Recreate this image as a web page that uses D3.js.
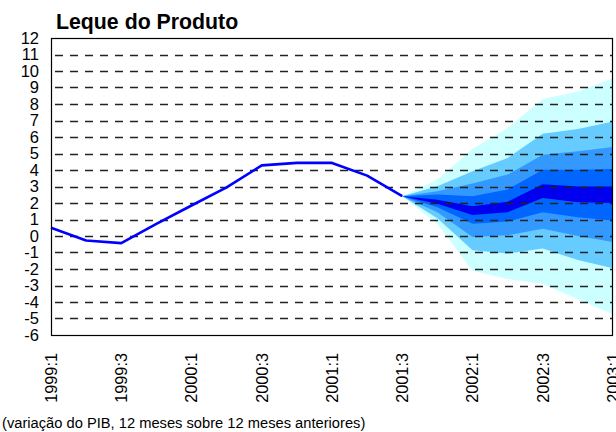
<!DOCTYPE html>
<html>
<head>
<meta charset="utf-8">
<script src="https://cdn.jsdelivr.net/npm/d3@7"></script>
<style>
  html, body { margin: 0; padding: 0; background: #fff; }
  svg { display: block; font-family: "Liberation Sans", Arial, sans-serif; }
</style>
</head>
<body>
<svg id="chart" width="616" height="432"></svg>
<script>
// ---- data ----
const quarters = ["1999:1","1999:2","1999:3","1999:4","2000:1","2000:2","2000:3","2000:4",
  "2001:1","2001:2","2001:3","2001:4","2002:1","2002:2","2002:3","2002:4","2003:1"];
const tickLabels = ["1999:1","1999:3","2000:1","2000:3","2001:1","2001:3","2002:1","2002:3","2003:1"];
const yTicks = [12,11,10,9,8,7,6,5,4,3,2,1,0,-1,-2,-3,-4,-5,-6];
// historical GDP growth (1999:1 .. 2001:3)
const history = [0.5, -0.27, -0.43, 0.73, 1.85, 2.95, 4.28, 4.43, 4.43, 3.66, 2.41];
// fan chart quantile bounds (2001:3 .. 2003:1)
const fanQuarters = ["2001:3","2001:4","2002:1","2002:2","2002:3","2002:4","2003:1"];
const outerUpper  = [2.41, 3.42, 5.27, 6.54, 8.30, 8.76, 9.56];
const band2Upper  = [2.41, 3.02, 3.92, 4.73, 6.20, 6.48, 6.94];
const band3Upper  = [2.41, 2.71, 3.18, 3.72, 4.93, 5.13, 5.39];
const band4Upper  = [2.41, 2.51, 2.41, 2.82, 4.02, 4.02, 4.06];
const centerUpper = [2.41, 2.20, 1.80, 2.08, 3.14, 3.00, 3.00];
const centerLower = [2.41, 1.95, 1.28, 1.44, 2.30, 2.04, 2.00];
const band4Lower  = [2.41, 1.74, 0.74, 0.88, 1.44, 1.14, 0.94];
const band3Lower  = [2.41, 1.44, -0.06, 0.04, 0.44, 0.00, -0.36];
const band2Lower  = [2.41, 1.08, -0.86, -1.06, -0.76, -1.46, -1.96];
const outerLower  = [2.41, 0.74, -2.10, -2.60, -2.90, -3.83, -4.74];
const bandColors = ["#CCFFFF", "#66CCFF", "#3399FF", "#0066FF", "#0000EE"];
const title = "Leque do Produto";
const caption = "(variação do PIB, 12 meses sobre 12 meses anteriores)";

// ---- layout ----
const L = 51, R = 613, T = 38, B = 335;
const svg = d3.select("#chart");
const x = d3.scalePoint().domain(quarters).range([L, R]);
const y = d3.scaleLinear().domain([-6, 12]).range([B, T]);

// fan bands
const bands = [
  [outerUpper, outerLower],
  [band2Upper, band2Lower],
  [band3Upper, band3Lower],
  [band4Upper, band4Lower],
  [centerUpper, centerLower]
];
const area = d3.area()
  .x(d => x(d.q))
  .y0(d => y(d.lo))
  .y1(d => y(d.hi));
bands.forEach((b, i) => {
  const pts = fanQuarters.map((q, j) => ({q, hi: b[0][j], lo: b[1][j]}));
  svg.append("path").attr("d", area(pts)).attr("fill", bandColors[i]).attr("stroke", "none");
});

// gridlines
const gridVals = d3.range(-5, 12);
svg.append("g").selectAll("line").data(gridVals).join("line")
  .attr("x1", L).attr("x2", R)
  .attr("y1", d => Math.round(y(d)) + 0.5).attr("y2", d => Math.round(y(d)) + 0.5)
  .attr("stroke", "#222").attr("stroke-width", 1.3)
  .attr("stroke-dasharray", "8 7").attr("stroke-dashoffset", 11);

// history line
const line = d3.line().x((d, i) => x(quarters[i])).y(d => y(d));
svg.append("path").attr("d", line(history))
  .attr("fill", "none").attr("stroke", "#0000FF").attr("stroke-width", 2.6)
  .attr("stroke-linejoin", "round");

// frame
svg.append("rect").attr("x", L + 0.5).attr("y", T + 0.5)
  .attr("width", R - L - 1).attr("height", B - T)
  .attr("fill", "none").attr("stroke", "#000").attr("stroke-width", 1.2);

// y axis labels
svg.append("g").selectAll("text").data(yTicks).join("text")
  .attr("x", 39).attr("y", d => y(d))
  .attr("dy", "0.36em")
  .attr("text-anchor", "end")
  .attr("font-size", 16.5).attr("fill", "#000")
  .text(d => d);

// x axis labels
svg.append("g").selectAll("text").data(tickLabels).join("text")
  .attr("transform", d => `translate(${x(d)},353) rotate(-90)`)
  .attr("dy", "0.36em")
  .attr("text-anchor", "end")
  .attr("font-size", 16.3).attr("fill", "#000")
  .text(d => d);

// title
svg.append("text").attr("x", 56).attr("y", 29)
  .attr("font-size", 21.3).attr("font-weight", "bold").attr("fill", "#000")
  .text(title);

// caption
svg.append("text").attr("x", 2).attr("y", 428)
  .attr("font-size", 14.7).attr("fill", "#000")
  .text(caption);
</script>
</body>
</html>
